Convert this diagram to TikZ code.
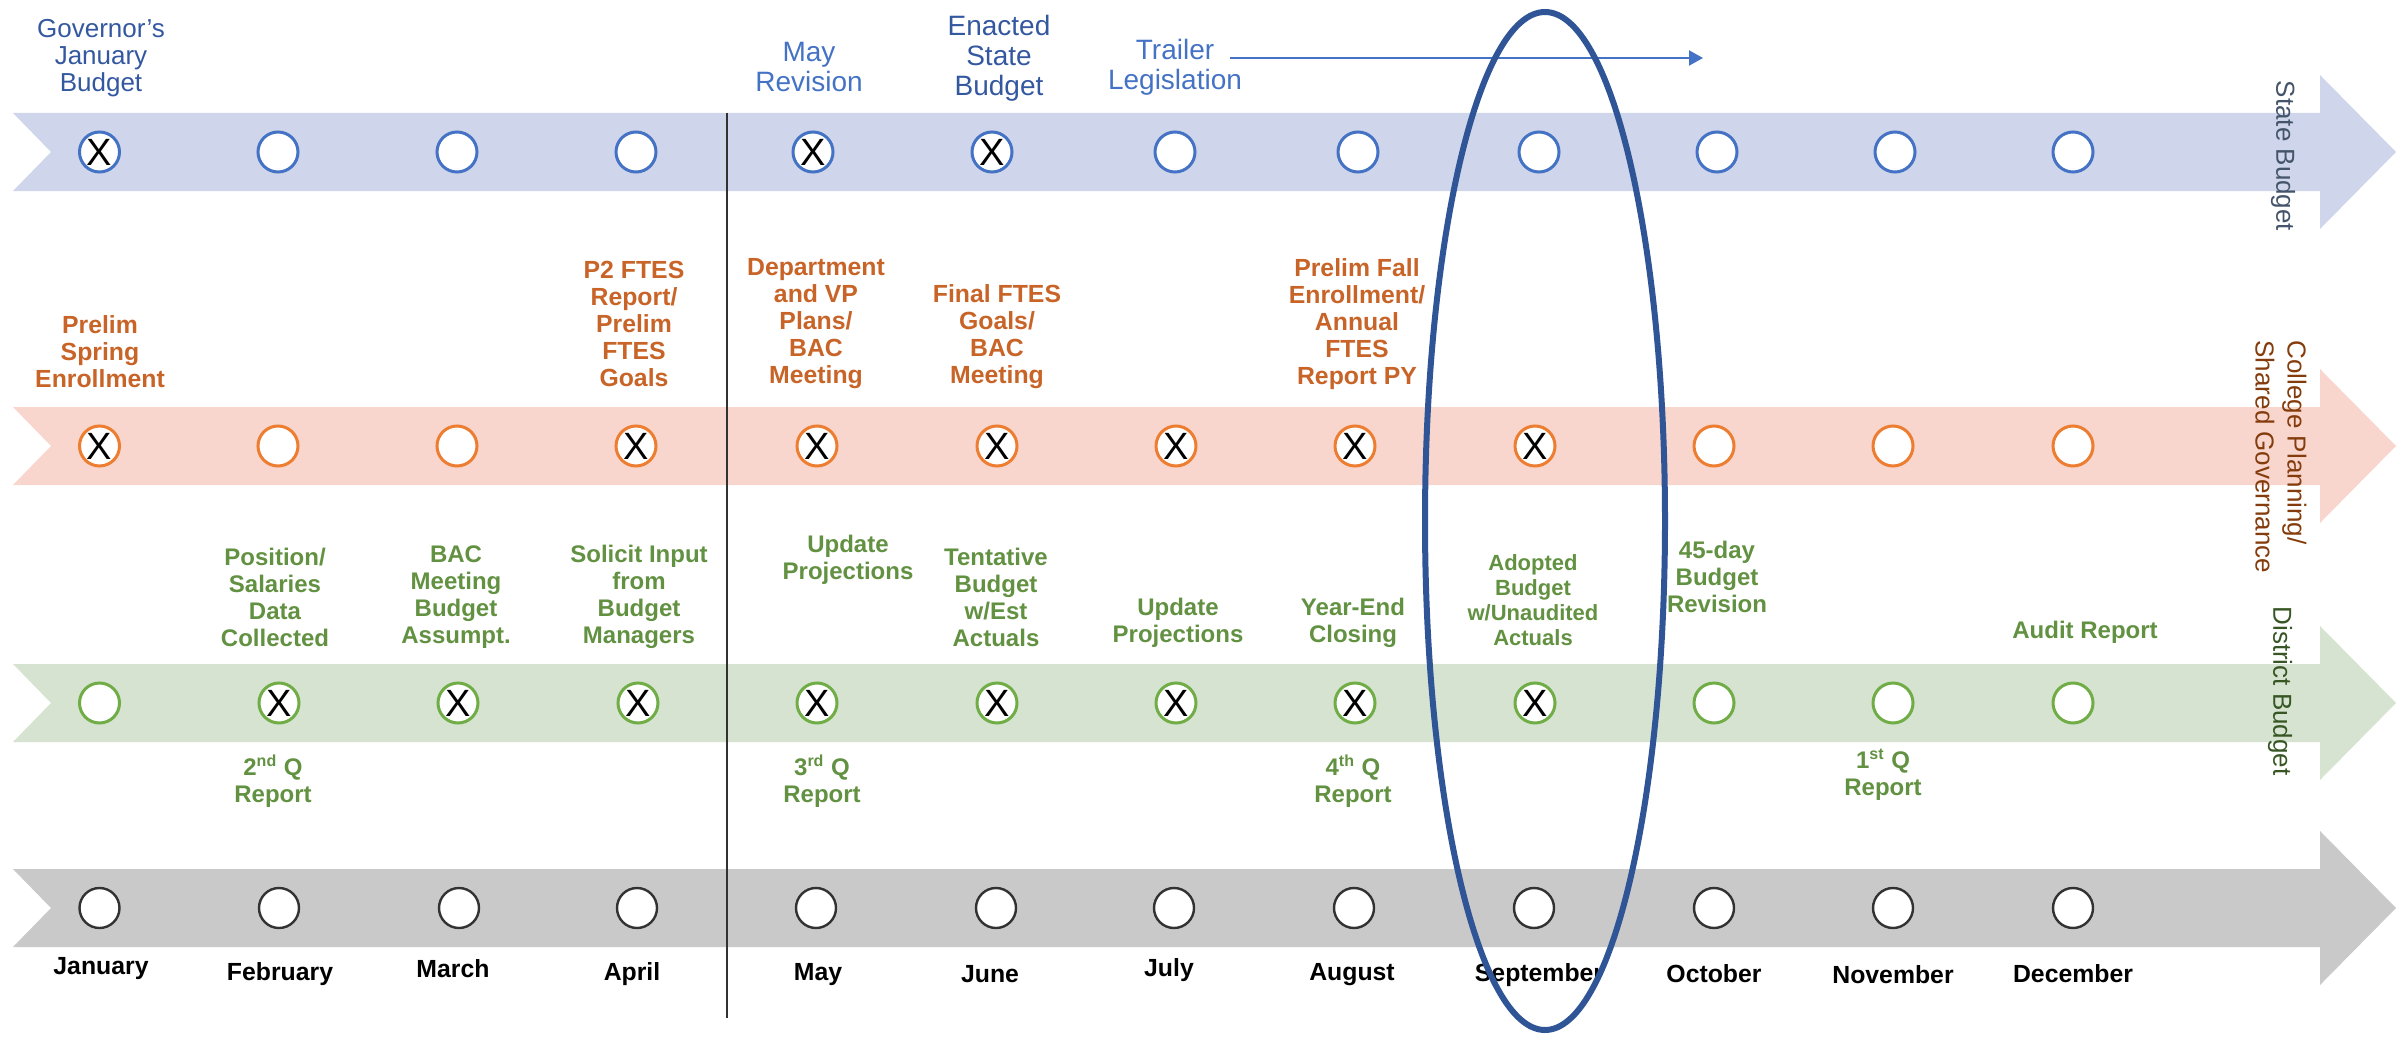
\documentclass[tikz,border=0pt]{standalone}
\usepackage{fontspec}
\setmainfont{Liberation Sans}
\usetikzlibrary{arrows.meta}

\definecolor{stateband}{RGB}{207,213,234}
\definecolor{statedot}{RGB}{68,114,196}
\definecolor{statetext}{RGB}{68,114,196}
\definecolor{statedark}{RGB}{52,88,160}
\definecolor{statelabel}{RGB}{68,84,106}
\definecolor{collegeband}{RGB}{248,214,205}
\definecolor{collegedot}{RGB}{237,125,49}
\definecolor{collegetext}{RGB}{200,100,40}
\definecolor{collegelabel}{RGB}{132,60,12}
\definecolor{districtband}{RGB}{213,227,208}
\definecolor{districtdot}{RGB}{112,173,71}
\definecolor{districttext}{RGB}{98,145,66}
\definecolor{districtlabel}{RGB}{55,86,35}
\definecolor{monthband}{RGB}{201,201,201}
\definecolor{monthdot}{RGB}{50,50,50}
\definecolor{ovalblue}{RGB}{47,85,151}

\begin{document}
\begin{tikzpicture}[x=0.5pt,y=0.5pt,yscale=-1,xscale=1,
  dot/.style={circle,fill=white,line width=1.5pt,minimum size=20pt,inner sep=0pt,font=\fontsize{19}{19}\selectfont,text=black},
  stdot/.style={dot,draw=statedot},
  cpdot/.style={dot,draw=collegedot},
  dbdot/.style={dot,draw=districtdot},
  modot/.style={dot,draw=monthdot,line width=1.2pt},
  sttext/.style={align=center,inner sep=0pt,text=statetext,font=\fontsize{14}{15}\selectfont},
  cptext/.style={align=center,inner sep=0pt,text=collegetext,font=\bfseries\fontsize{12.4}{13.5}\selectfont},
  dbtext/.style={align=center,inner sep=0pt,text=districttext,font=\bfseries\fontsize{12}{13.5}\selectfont},
  motext/.style={inner sep=0pt,font=\bfseries\fontsize{12.4}{13}\selectfont},
  sidetext/.style={rotate=-90,align=left,inner sep=0pt,font=\fontsize{13}{16}\selectfont}]
%set diagram size to 2399 x 1038
\path[use as bounding box] (0,0) rectangle (2399,1038);

%Shape: Arrow band - State Budget
\fill[stateband] (13,113) -- (2320,113) -- (2320,75) -- (2396,152) -- (2320,229) -- (2320,191) -- (13,191) -- (51,152) -- cycle ;
%Shape: Arrow band - College Planning
\fill[collegeband] (13,407) -- (2320,407) -- (2320,369) -- (2396,446) -- (2320,523) -- (2320,485) -- (13,485) -- (51,446) -- cycle ;
%Shape: Arrow band - District Budget
\fill[districtband] (13,664) -- (2320,664) -- (2320,626) -- (2396,703) -- (2320,780) -- (2320,742) -- (13,742) -- (51,703) -- cycle ;
%Shape: Arrow band - months
\fill[monthband] (13,869) -- (2320,869) -- (2320,831) -- (2396,908) -- (2320,985) -- (2320,947) -- (13,947) -- (51,908) -- cycle ;

%Straight Lines - April / May divider
\draw[monthdot,line width=1.2pt] (727,113) -- (727,1018) ;

%Circles - State Budget
\node[stdot] (s1) at (99.5,152) {X};
\node[stdot] (s2) at (278,152) {};
\node[stdot] (s3) at (457,152) {};
\node[stdot] (s4) at (636,152) {};
\node[stdot] (s5) at (813,152) {X};
\node[stdot] (s6) at (992,152) {X};
\node[stdot] (s7) at (1175,152) {};
\node[stdot] (s8) at (1358,152) {};
\node[stdot] (s9) at (1539,152) {};
\node[stdot] (s10) at (1717,152) {};
\node[stdot] (s11) at (1895,152) {};
\node[stdot] (s12) at (2073,152) {};
%Circles - College Planning
\node[cpdot] (c1) at (99.5,446) {X};
\node[cpdot] (c2) at (278,446) {};
\node[cpdot] (c3) at (457,446) {};
\node[cpdot] (c4) at (636,446) {X};
\node[cpdot] (c5) at (817,446) {X};
\node[cpdot] (c6) at (997,446) {X};
\node[cpdot] (c7) at (1176,446) {X};
\node[cpdot] (c8) at (1355,446) {X};
\node[cpdot] (c9) at (1535,446) {X};
\node[cpdot] (c10) at (1714,446) {};
\node[cpdot] (c11) at (1893,446) {};
\node[cpdot] (c12) at (2073,446) {};
%Circles - District Budget
\node[dbdot] (d1) at (99.5,703) {};
\node[dbdot] (d2) at (279,703) {X};
\node[dbdot] (d3) at (458,703) {X};
\node[dbdot] (d4) at (638,703) {X};
\node[dbdot] (d5) at (817,703) {X};
\node[dbdot] (d6) at (997,703) {X};
\node[dbdot] (d7) at (1176,703) {X};
\node[dbdot] (d8) at (1355,703) {X};
\node[dbdot] (d9) at (1535,703) {X};
\node[dbdot] (d10) at (1714,703) {};
\node[dbdot] (d11) at (1893,703) {};
\node[dbdot] (d12) at (2073,703) {};
%Circles - months
\node[modot] (m1) at (99.5,908) {};
\node[modot] (m2) at (279,908) {};
\node[modot] (m3) at (459,908) {};
\node[modot] (m4) at (637,908) {};
\node[modot] (m5) at (816,908) {};
\node[modot] (m6) at (996,908) {};
\node[modot] (m7) at (1174,908) {};
\node[modot] (m8) at (1354,908) {};
\node[modot] (m9) at (1534,908) {};
\node[modot] (m10) at (1714,908) {};
\node[modot] (m11) at (1893,908) {};
\node[modot] (m12) at (2073,908) {};

% Text Node - State Budget
\node[sttext,font=\fontsize{13}{13.5}\selectfont,text=statedark] (govjan) at (101,58) {Governor’s\\January\\Budget};
\node[sttext] (mayrev) at (809,67) {May\\Revision};
\node[sttext,text=statedark] (enacted) at (999,58) {Enacted\\State\\Budget};
\node[sttext] (trailer) at (1175,67) {Trailer\\Legislation};
\coordinate (trailstart) at ([xshift=-6pt]trailer.east);
\coordinate (trailend) at (1703,58);
\draw[statedot,line width=1pt,-{Triangle[length=7pt,width=7.5pt]}] (trailstart |- trailend) -- (trailend) ;

% Text Node - College Planning
\node[cptext] (sprenr) at (100,352) {Prelim\\Spring\\Enrollment};
\node[cptext] (p2ftes) at (634,324) {P2 FTES\\Report/\\Prelim\\FTES\\Goals};
\node[cptext] (deptvp) at (816,324) {Department\\and VP\\Plans/\\BAC\\Meeting};
\node[cptext] (finftes) at (997,337) {Final FTES\\Goals/\\BAC\\Meeting};
\node[cptext] (fallenr) at (1357,324) {Prelim Fall\\Enrollment/\\Annual\\FTES\\Report PY};

% Text Node - District Budget
\node[dbtext] (posdata) at (275,597) {Position/\\Salaries\\Data\\Collected};
\node[dbtext] (bacmeet) at (456,597) {BAC\\Meeting\\Budget\\Assumpt.};
\node[dbtext] (solicit) at (639,597) {Solicit Input\\from\\Budget\\Managers};
\node[dbtext] (updmay) at (848,560) {Update\\Projections};
\node[dbtext] (tentbud) at (996,597) {Tentative\\Budget\\w/Est\\Actuals};
\node[dbtext] (updjul) at (1178,623) {Update\\Projections};
\node[dbtext] (yearend) at (1353,623) {Year-End\\Closing};
\node[dbtext,font=\bfseries\fontsize{11}{12.5}\selectfont] (adopted) at (1533,600) {Adopted\\Budget\\w/Unaudited\\Actuals};
\node[dbtext] (rev45) at (1717,577) {45-day\\Budget\\Revision};
\node[dbtext] (audit) at (2085,632) {Audit Report};
\node[dbtext] (q2rep) at (273,781) {2\textsuperscript{nd} Q\\Report};
\node[dbtext] (q3rep) at (822,781) {3\textsuperscript{rd} Q\\Report};
\node[dbtext] (q4rep) at (1353,781) {4\textsuperscript{th} Q\\Report};
\node[dbtext] (q1rep) at (1883,775) {1\textsuperscript{st} Q\\Report};

% Text Node - months
\node[motext] (jan) at (101,969) {January};
\node[motext] (feb) at (280,974) {February};
\node[motext] (mar) at (453,969) {March};
\node[motext] (apr) at (632,974) {April};
\node[motext] (may) at (818,975) {May};
\node[motext] (jun) at (990,974) {June};
\node[motext] (jul) at (1169,970) {July};
\node[motext] (aug) at (1352,975) {August};
\node[motext] (sep) at (1539,975) {September};
\node[motext] (oct) at (1714,974) {October};
\node[motext] (nov) at (1893,975) {November};
\node[motext] (dec) at (2073,974) {December};

% Text Node - band names
\node[sidetext,text=statelabel] (stname) at (2283,156) {State Budget};
\node[sidetext,text=collegelabel] (cpname) at (2281,457) {College Planning/\\Shared Governance};
\node[sidetext,text=districtlabel] (dbname) at (2280,691) {District Budget};

%Shape: Ellipse round September
\draw[ovalblue,line width=3pt] (1545,521) ellipse [x radius=120, y radius=509] ;
\end{tikzpicture}
\end{document}
